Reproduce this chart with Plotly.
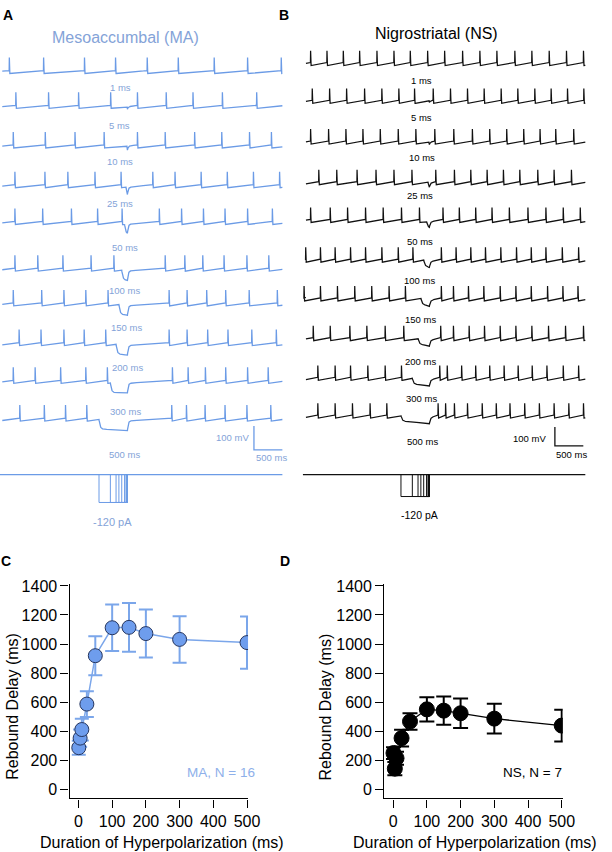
import numpy as np
import plotly.graph_objects as go

W, H = 612, 852

# ---------------- data ----------------
durations_ms = [1, 5, 10, 25, 50, 100, 150, 200, 300, 500]
duration_labels = ["1 ms", "5 ms", "10 ms", "25 ms", "50 ms",
                   "100 ms", "150 ms", "200 ms", "300 ms", "500 ms"]

# spike times (ms from start of sweep) for each sweep, panel A (MA)
ma_spike_times = [
    [161, 764, 1483, 2029, 2586, 3132, 3764, 4351, 4943],
    [276, 851, 1379, 1943, 2414, 2920, 3391, 3908, 4511],
    [230, 793, 1316, 1828, 2414, 2902, 3420, 3897, 4385, 4770],
    [259, 787, 1190, 1667, 2126, 2684, 3075, 3534, 3994, 4454, 4914],
    [259, 747, 1253, 1713, 2144, 2799, 3190, 3575, 3954, 4351, 4787],
    [259, 661, 1103, 1598, 2000, 2902, 3247, 3563, 3937, 4339, 4724],
    [230, 730, 1121, 1506, 1897, 2971, 3287, 3632, 3966, 4379, 4874],
    [333, 718, 1121, 1477, 1856, 2971, 3287, 3649, 4006, 4425, 4856],
    [230, 615, 1063, 1506, 1885, 3029, 3305, 3609, 3966, 4351, 4713],
    [345, 776, 1149, 1523, 3017, 3276, 3603, 3954, 4339, 4759],
]

# spike times (ms) for each sweep, panel B (NS)
ns_spike_times = [
    [149, 437, 724, 1011, 1316, 1615, 1902, 2207, 2506, 2822, 3126, 3425, 3741, 4040, 4345, 4649, 4948],
    [178, 483, 782, 1098, 1402, 1701, 1977, 2305, 2609, 2908, 3201, 3500, 3793, 4092, 4379, 4667, 4954],
    [149, 465, 770, 1069, 1374, 1690, 2000, 2333, 2667, 2994, 3299, 3598, 3897, 4184, 4460, 4776],
    [293, 609, 966, 1299, 1615, 1931, 2350, 2678, 2966, 3253, 3540, 3828, 4144, 4431, 4736],
    [149, 494, 799, 1115, 1425, 1747, 2063, 2477, 2764, 3052, 3339, 3644, 3971, 4287, 4592, 4891],
    [63, 322, 580, 851, 1115, 1402, 1690, 1948, 2448, 2707, 2966, 3224, 3494, 3770, 4029, 4287, 4575, 4862],
    [34, 322, 621, 925, 1224, 1529, 1816, 2448, 2661, 2925, 3195, 3483, 3759, 4029, 4316, 4586, 4851],
    [195, 494, 839, 1138, 1460, 1787, 2437, 2661, 2937, 3207, 3483, 3759, 4040, 4333, 4632, 4948],
    [276, 580, 851, 1155, 1460, 1747, 2420, 2552, 2805, 3052, 3299, 3552, 3799, 4046, 4305, 4592, 4862],
    [276, 580, 885, 1195, 1489, 2391, 2523, 2678, 2908, 3167, 3414, 3655, 3914, 4172, 4431, 4690, 4948],
]

stim_current_pa = -120
stim_end_ms = 2241
scalebar_mv = 100
scalebar_ms = 500

# rebound delay summary (panels C and D)
ma_delay_ms = [287, 353, 412, 587, 920, 1112, 1115, 1072, 1032, 1010]
ma_delay_err = [48, 60, 75, 88, 134, 160, 168, 165, 160, 180]
ns_delay_ms = [250, 143, 215, 353, 467, 551, 542, 524, 487, 439]
ns_delay_err = [40, 45, 45, 57, 57, 83, 97, 102, 102, 109]

# ---------------- styles / layout constants ----------------
FONT = "Liberation Sans, Arial, sans-serif"
MA_LINE = "#6b9be6"
MA_TEXT = "#84a3d8"
MA_FILL = "#6e9ded"
MA_EDGE = "#26365f"
NS_LINE = "#111111"

ROW_PX_A = [68, 103, 143, 183, 220, 267, 302, 342, 380, 418]
ROW_PX_B = [60, 98, 139, 180, 218, 258, 297, 337, 377, 415]
LBL_A = [(123, 82), (122, 120), (122, 157), (122, 199), (127, 243),
         (127, 287), (129, 324), (130, 364), (128, 408), (127, 452)]
LBL_B = [(430, 75), (430, 112), (430, 153), (428, 191), (428, 237),
         (428, 276), (429, 316), (429, 358), (430, 395), (431, 439)]

PXMV_A, PXMV_B = 0.24, 0.19         # px per mV
TOP_A, TOP_B, BOT_V = 40, 30, 480  # voltage axes domain (px)


def px2paper_y(p):
    return 1 - p / H


def mv_a(p):
    return -(p - TOP_A) / PXMV_A


def mv_b(p):
    return -(p - TOP_B) / PXMV_B


def sweep(spikes, dur, t_off, t0, t1, trough, thr, peak, hyp, tau=18.0, tau_back=14.0):
    isi = float(np.median(np.diff(spikes)))
    t_on = t_off - dur
    T, V = [], []
    first = spikes[0]
    T.append(t0)
    V.append(max(trough, thr - (thr - trough) * (first - t0) / isi))
    for k, s in enumerate(spikes):
        T += [s, s + 3, s + 12]
        V += [thr, peak, trough]
        a = s + 12
        b = spikes[k + 1] if k + 1 < len(spikes) else None
        if b is not None and a < t_on and b > t_off:
            def pre(t):
                return min(thr, trough + (thr - trough) * (t - a) / isi)
            v_on = pre(t_on)
            s0 = v_on + (trough - v_on) * (1 - np.exp(-dur / 60.0))
            hoff = hyp * (1 - np.exp(-dur / tau))
            ts = np.union1d(np.arange(a + 4, b, 2.0), [t_on, t_off])
            for t in ts:
                if t < t_on:
                    v = pre(t)
                elif t <= t_off:
                    base = v_on + (s0 - v_on) * (t - t_on) / dur
                    v = base - hyp * (1 - np.exp(-(t - t_on) / tau))
                else:
                    base = s0 + (thr - s0) * (t - t_off) / (b - t_off)
                    v = base - hoff * np.exp(-(t - t_off) / tau_back)
                T.append(float(t))
                V.append(float(v))
        elif b is None and t1 > a:
            T.append(t1)
            V.append(min(thr, trough + (thr - trough) * (t1 - a) / isi))
    return [round(t, 1) for t in T], [round(v, 2) for v in V]


fig = go.Figure()

# ---- panel A traces ----
for i, (sp, d) in enumerate(zip(ma_spike_times, durations_ms)):
    tr = mv_a(ROW_PX_A[i])
    T, V = sweep(sp, d, stim_end_ms, 40, 4966, tr, tr + 12.5, tr + 67, 40)
    fig.add_trace(go.Scatter(x=T, y=V, mode="lines", xaxis="x", yaxis="y",
                             line=dict(color=MA_LINE, width=1.3), hoverinfo="skip"))

# ---- panel B traces ----
for i, (sp, d) in enumerate(zip(ns_spike_times, durations_ms)):
    tr = mv_b(ROW_PX_B[i])
    T, V = sweep(sp, d, stim_end_ms, 70, 4983, tr, tr + 16, tr + 79, 30)
    fig.add_trace(go.Scatter(x=T, y=V, mode="lines", xaxis="x2", yaxis="y2",
                             line=dict(color=NS_LINE, width=1.25), hoverinfo="skip"))

# ---- scale bars ----
sb_a_bottom = mv_a(447)
fig.add_trace(go.Scatter(x=[4466, 4466, 4466 + scalebar_ms],
                         y=[sb_a_bottom + scalebar_mv, sb_a_bottom, sb_a_bottom],
                         mode="lines", xaxis="x", yaxis="y",
                         line=dict(color=MA_LINE, width=1.3), hoverinfo="skip"))
sb_b_bottom = mv_b(443)
fig.add_trace(go.Scatter(x=[4448, 4448, 4448 + scalebar_ms],
                         y=[sb_b_bottom + scalebar_mv, sb_b_bottom, sb_b_bottom],
                         mode="lines", xaxis="x2", yaxis="y2",
                         line=dict(color=NS_LINE, width=1.3), hoverinfo="skip"))

# ---- stimulus protocols ----
for xa, ya, col, t0, t1 in [("x", "y5", MA_LINE, 0, 4966), ("x2", "y6", NS_LINE, 17, 4983)]:
    fig.add_trace(go.Scatter(x=[t0, t1], y=[0, 0], mode="lines", xaxis=xa, yaxis=ya,
                             line=dict(color=col, width=1.3), hoverinfo="skip"))
    for d in durations_ms:
        fig.add_trace(go.Scatter(x=[stim_end_ms - d, stim_end_ms - d, stim_end_ms, stim_end_ms],
                                 y=[0, stim_current_pa, stim_current_pa, 0],
                                 mode="lines", xaxis=xa, yaxis=ya,
                                 line=dict(color=col, width=1.0), hoverinfo="skip"))

# ---- panel C ----
fig.add_trace(go.Scatter(
    x=durations_ms, y=ma_delay_ms, mode="lines+markers", xaxis="x3", yaxis="y3",
    line=dict(color="#7ba6ea", width=1.5),
    marker=dict(size=14, color=MA_FILL, line=dict(color=MA_EDGE, width=1)),
    error_y=dict(type="data", array=ma_delay_err, color="#7ba6ea", thickness=2, width=7),
    hoverinfo="skip"))

# ---- panel D ----
fig.add_trace(go.Scatter(
    x=durations_ms, y=ns_delay_ms, mode="lines+markers", xaxis="x4", yaxis="y4",
    line=dict(color="#000000", width=1.3),
    marker=dict(size=15, color="#000000", line=dict(color="#000000", width=1)),
    error_y=dict(type="data", array=ns_delay_err, color="#000000", thickness=2, width=7.5),
    hoverinfo="skip"))

hidden = dict(visible=False, showgrid=False, zeroline=False, fixedrange=True)


def dom_x(a, b):
    return [a / W, b / W]


def dom_y(top, bot):
    return [1 - bot / H, 1 - top / H]


summary_x = dict(showline=True, linecolor="black", linewidth=1.4, ticks="outside",
                 ticklen=8, tickwidth=1.4, tickcolor="black", showgrid=False, zeroline=False,
                 tickvals=[0, 100, 200, 300, 400, 500], range=[-26.2, 503],
                 tickfont=dict(size=16, color="black", family=FONT))
summary_y = dict(showline=True, linecolor="black", linewidth=1.4, ticks="outside",
                 ticklen=8, tickwidth=1.4, tickcolor="black", showgrid=False, zeroline=False,
                 tickvals=[0, 200, 400, 600, 800, 1000, 1200, 1400], range=[-61.5, 1413.7],
                 tickfont=dict(size=16, color="black", family=FONT))

fig.update_layout(
    width=W, height=H, margin=dict(l=0, r=0, t=0, b=0),
    paper_bgcolor="white", plot_bgcolor="rgba(0,0,0,0)", showlegend=False,
    font=dict(family=FONT, color="black"),
    xaxis=dict(domain=dom_x(0, 290), range=[0, 5000], anchor="y", **hidden),
    yaxis=dict(domain=dom_y(TOP_A, BOT_V), range=[mv_a(BOT_V), 0], anchor="x", **hidden),
    xaxis2=dict(domain=dom_x(308, 598), range=[0, 5000], anchor="y2", **hidden),
    yaxis2=dict(domain=dom_y(TOP_B, BOT_V), range=[mv_b(BOT_V), 0], anchor="x2", **hidden),
    yaxis5=dict(domain=dom_y(460, 510), range=[-(510 - 472) / 0.2333, (472 - 460) / 0.2333],
                anchor="x", **hidden),
    yaxis6=dict(domain=dom_y(460, 510), range=[-(510 - 472) / 0.1833, (472 - 460) / 0.1833],
                anchor="x2", **hidden),
    xaxis3=dict(domain=dom_x(71, 253), anchor="y3", **summary_x),
    yaxis3=dict(domain=dom_y(582, 798), anchor="x3", **summary_y),
    xaxis4=dict(domain=dom_x(392, 574), anchor="y4", **summary_x),
    yaxis4=dict(domain=dom_y(582, 798), anchor="x4", **summary_y),
)


def ann(text, x, y, size, color="black", bold=False, angle=0):
    fig.add_annotation(text=f"<b>{text}</b>" if bold else text, x=x / W, y=px2paper_y(y),
                       xref="paper", yref="paper", showarrow=False, xanchor="center",
                       yanchor="middle", textangle=angle, borderpad=0,
                       font=dict(size=size, color=color, family=FONT))


ann("A", 8, 9, 14, bold=True)
ann("B", 290, 9, 14, bold=True)
ann("C", 6, 559, 14, bold=True)
ann("D", 291, 559, 14, bold=True)

ann("Mesoaccumbal (MA)", 128, 32, 16, MA_TEXT)
ann("Nigrostriatal (NS)", 445, 28, 16, "black")

for (x, y), lab in zip(LBL_A, duration_labels):
    ann(lab, x, y, 9.5, MA_TEXT)
for (x, y), lab in zip(LBL_B, duration_labels):
    ann(lab, x, y, 9.5, "black")

ann(f"{scalebar_mv} mV", 237, 435, 9.5, MA_TEXT)
ann(f"{scalebar_ms} ms", 277, 455, 9.5, MA_TEXT)
ann(f"{scalebar_mv} mV", 540, 436, 9.5, "black")
ann(f"{scalebar_ms} ms", 583, 452, 9.5, "black")

ann(f"{stim_current_pa} pA", 115, 520, 11, MA_TEXT)
ann(f"{stim_current_pa} pA", 428, 513, 10.5, "black")

ann("Rebound Delay (ms)", 12, 705, 16, angle=-90)
ann("Rebound Delay (ms)", 332, 706, 16, angle=-90)
ann("Duration of Hyperpolarization (ms)", 165, 842, 16)
ann("Duration of Hyperpolarization (ms)", 484, 842, 16)

ann("MA, N = 16", 225, 772, 13.5, "#8eb0ea")
ann("NS, N = 7", 543, 772, 13.5, "black")

fig.write_html("out.html", config={"displayModeBar": False},
               post_script="document.body.style.margin='0px';document.body.style.overflow='hidden';")
